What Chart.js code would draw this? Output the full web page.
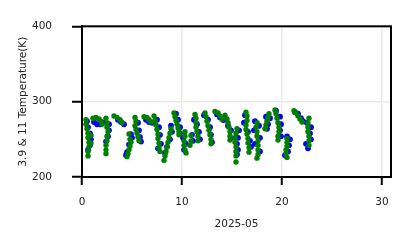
<!DOCTYPE html>
<html>
<head>
<meta charset="utf-8">
<script src="https://cdn.jsdelivr.net/npm/chart.js@4/dist/chart.umd.min.js"></script>
<style>
  html, body { margin: 0; padding: 0; background: #fff; }
  #wrap { width: 411px; height: 248px; }
</style>
</head>
<body>
<div id="wrap"><canvas id="myChart" width="411" height="248"></canvas></div>
<script>
// axis ticks
const xTicks = [0, 10, 20, 30];
const yTicks = [200, 300, 400];

// 11 um channel brightness temps, [day of month, K] (green)
const tb11 = [
  [0.4,276],[0.4,270],[0.5,264],[0.6,258],[0.6,252],[0.7,246],[0.7,240],[0.6,234],[0.6,228],[0.9,255],[0.9,245],
  [1.1,278],[1.4,279],[1.7,277],[1.9,274],[2.0,270],
  [2.4,278],[2.5,272],[2.5,266],[2.6,260],[2.5,254],[2.5,248],[2.4,242],[2.4,236],[2.4,231],
  [3.2,281],[3.5,279],[3.8,276],[4.0,272],
  [4.7,257],[4.8,250],[4.9,246],[4.8,241],[4.7,236],[4.6,231],[4.5,227],
  [5.3,279],[5.4,274],[5.3,268],[5.4,263],[5.5,258],[5.6,253],[5.7,248],
  [6.2,280],[6.5,279],[6.7,276],[6.9,273],
  [7.2,281],[7.3,275],[7.4,269],[7.5,263],[7.6,257],[7.6,251],[7.7,245],[7.7,239],[7.8,234],
  [8.9,264],[8.8,258],[8.7,252],[8.6,246],[8.5,240],[8.4,234],[8.3,228],[8.2,222],
  [9.2,285],[9.3,280],[9.4,275],[9.5,270],[9.6,265],[9.7,260],[9.7,256],
  [10.3,260],[10.3,254],[10.2,248],[10.2,242],[10.3,236],[10.4,232],[10.9,255],[10.9,248],[10.8,242],
  [11.3,283],[11.4,278],[11.4,272],[11.4,266],[11.5,260],[11.6,254],[11.6,248],
  [12.3,285],[12.4,280],[12.5,274],[12.6,268],[12.7,262],[12.8,256],[12.9,250],[12.9,244],
  [13.3,287],[13.6,285],[13.8,281],[14.0,277],
  [14.3,282],[14.5,277],[14.6,272],[14.7,266],[14.8,260],[14.8,254],[14.8,249],
  [15.5,264],[15.4,258],[15.3,252],[15.3,246],[15.4,240],[15.4,234],[15.4,228],[15.4,220],
  [16.4,286],[16.5,281],[16.5,275],[16.4,269],[16.4,263],[16.5,257],[16.6,251],[16.6,245],[16.7,239],[16.7,233],
  [17.5,272],[17.4,266],[17.5,260],[17.5,254],[17.6,248],[17.6,242],[17.6,236],[17.6,230],[17.5,225],
  [18.7,284],[18.6,279],[18.5,274],[18.4,269],[18.3,264],
  [19.3,289],[19.4,284],[19.5,278],[19.6,272],[19.7,266],[19.7,260],[19.6,254],[19.6,249],
  [20.5,251],[20.5,246],[20.5,241],[20.4,236],[20.4,231],[20.5,226],
  [21.2,288],[21.4,285],[21.6,281],[21.8,277],[22.0,273],
  [22.7,278],[22.6,272],[22.6,266],[22.6,260],[22.7,254],[22.7,248],[22.7,242]
];

// 3.9 um channel (blue)
const tb39 = [
  [0.5,274],[0.6,266],[0.8,258],[0.9,250],[0.8,242],[0.6,236],
  [1.2,273],[1.5,270],[1.8,270],[2.1,272],
  [2.7,270],[2.7,262],[2.6,254],[2.4,247],
  [3.6,276],[3.9,273],[4.2,270],
  [4.9,257],[5.0,252],[4.7,243],[4.5,233],[4.4,229],
  [5.6,272],[5.7,262],[5.8,253],[5.9,247],
  [6.4,276],[6.7,273],[7.0,272],
  [7.5,276],[7.7,266],[7.8,256],[7.9,244],[7.6,238],
  [8.9,268],[9.0,260],[8.8,250],[8.5,240],[8.3,232],
  [9.4,284],[9.6,276],[9.8,266],[9.8,258],
  [10.1,252],[10.4,244],[10.2,236],[11.0,256],[11.1,248],
  [11.2,276],[11.5,270],[11.7,260],[11.8,250],
  [12.2,282],[12.6,276],[12.8,266],[12.9,256],[13.0,246],
  [13.5,283],[13.8,279],[14.1,276],
  [14.2,276],[14.6,268],[14.9,262],[14.9,252],
  [15.7,262],[15.6,252],[15.5,244],[15.6,236],[15.5,230],
  [16.3,282],[16.2,272],[16.6,260],[16.8,248],[16.9,240],
  [17.3,274],[17.7,268],[17.2,262],[17.8,252],[17.3,244],[17.8,234],
  [18.4,280],[18.8,278],[18.6,270],[18.5,264],
  [19.4,288],[19.8,280],[19.9,270],[19.8,262],[19.9,254],
  [20.5,254],[20.8,250],[20.7,242],[20.6,234],[20.3,229],
  [21.3,286],[21.6,284],[21.9,278],[22.1,274],
  [22.5,272],[22.9,266],[22.8,258],[22.9,250],[22.4,244],[22.6,238]
];

const toPts = arr => arr.map(p => ({ x: p[0], y: p[1] }));

// draw the top and right spines too (matplotlib style box)
const boxPlugin = {
  id: 'box',
  afterDraw(chart) {
    const a = chart.chartArea, ctx = chart.ctx;
    ctx.save();
    ctx.strokeStyle = '#000';
    ctx.lineWidth = 2;
    ctx.strokeRect(a.left, a.top, a.right - a.left, a.bottom - a.top);
    ctx.restore();
  }
};

const font = { family: 'DejaVu Sans', size: 10.5 };

const chart = new Chart(document.getElementById('myChart').getContext('2d'), {
  type: 'scatter',
  data: {
    datasets: [
      {
        label: '11',
        data: toPts(tb11),
        backgroundColor: '#008000',
        borderWidth: 0,
        pointRadius: 2.7,
        order: 0
      },
      {
        label: '3.9',
        data: toPts(tb39),
        backgroundColor: '#0000ff',
        borderWidth: 0,
        pointRadius: 2.9,
        order: 1
      }
    ]
  },
  options: {
    responsive: false,
    animation: false,
    layout: { padding: { left: 0, right: 20, top: 21, bottom: 0 } },
    plugins: { legend: { display: false }, tooltip: { enabled: false } },
    scales: {
      x: {
        type: 'linear',
        min: 0,
        max: 30.9,
        afterBuildTicks: s => { s.ticks = xTicks.map(v => ({ value: v })); },
        afterFit: s => { s.height = 71; },
        grid: { color: '#ebebeb', lineWidth: 1.5, tickColor: '#000', tickWidth: 2, tickLength: 8, drawOnChartArea: true },
        border: { color: '#000', width: 2 },
        ticks: { color: '#222', font: font, padding: 11, maxRotation: 0 },
        title: { display: true, text: '2025-05', color: '#222', font: font, padding: { top: 0, bottom: 17 } }
      },
      y: {
        min: 200,
        max: 400,
        afterBuildTicks: s => { s.ticks = yTicks.map(v => ({ value: v })); },
        afterFit: s => { s.width = 82; },
        grid: { color: '#ebebeb', lineWidth: 1.5, tickColor: '#000', tickWidth: 2, tickLength: 10 },
        border: { color: '#000', width: 2 },
        ticks: { color: '#222', font: font, padding: 20 },
        title: { display: true, text: '3.9 & 11 Temperature(K)', color: '#222', font: font, padding: { top: 17, bottom: 0 } }
      }
    }
  },
  plugins: [boxPlugin]
});
</script>
</body>
</html>
